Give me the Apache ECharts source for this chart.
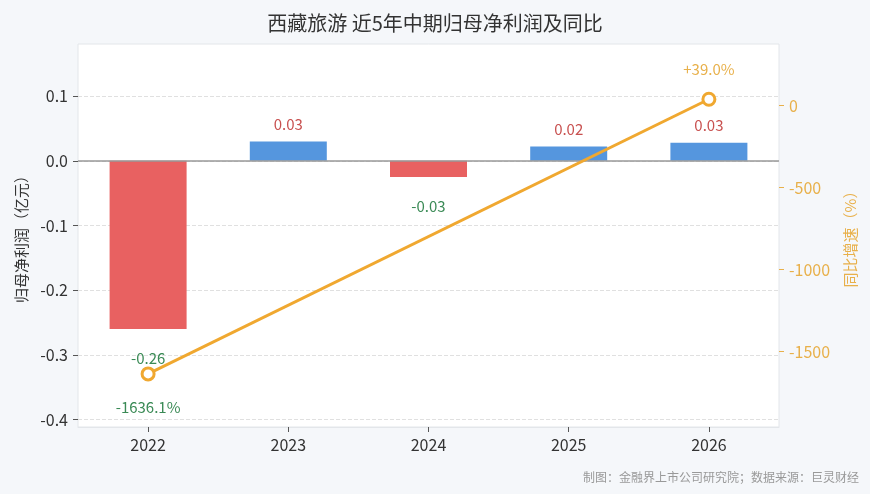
<!DOCTYPE html>
<html><head><meta charset="utf-8">
<script src="https://cdn.jsdelivr.net/npm/echarts@6/dist/echarts.min.js"></script>
<style>html,body{margin:0;padding:0;background:#f5f7fa;}#c{width:870px;height:494px;}</style>
</head><body><div id="c"></div>
<script>
const categories = ['2022','2023','2024','2025','2026'];
const profit = [-0.26, 0.03, -0.025, 0.022, 0.028];
const growth = [-1636.1, null, null, null, 39.0];
const leftTicks = [0.1, 0, -0.1, -0.2, -0.3, -0.4];
const rightTicks = [0, -500, -1000, -1500];

const FONT = '"Noto Sans CJK SC","Noto Sans",sans-serif';
const chart = echarts.init(document.getElementById('c'));
chart.setOption({
  backgroundColor: '#f5f7fa',
  textStyle: {fontFamily: FONT},
  title: {
    text: '西藏旅游 近5年中期归母净利润及同比',
    left: 'center', top: 8,
    textStyle: {fontSize: 20, fontWeight: 'normal', color: '#333', fontFamily: FONT}
  },
  graphic: [{
    type: 'text', right: 11, bottom: 11,
    style: {text: '制图：金融界上市公司研究院；数据来源：巨灵财经', fill: '#999', fontSize: 12, fontFamily: FONT}
  }],
  grid: {left: 78, right: 91, top: 44, bottom: 67, show: true, backgroundColor: '#fff', borderColor: '#e3e6ea', borderWidth: 1},
  xAxis: {
    type: 'category', data: categories,
    axisLine: {show: true, onZero: false, lineStyle: {color: '#e3e6ea'}},
    axisTick: {show: true, alignWithLabel: true, length: 5, lineStyle: {color: '#555'}},
    axisLabel: {color: '#333', fontSize: 16, margin: 10}
  },
  yAxis: [{
    type: 'value', min: -0.4114, max: 0.1805,
    name: '归母净利润（亿元）', nameLocation: 'middle', nameGap: 49,
    nameTextStyle: {color: '#333', fontSize: 15},
    axisLine: {show: false},
    axisTick: {show: true, length: 5, customValues: leftTicks, lineStyle: {color: '#555'}},
    axisLabel: {color: '#333', fontSize: 16, customValues: leftTicks, formatter: v => v.toFixed(1), margin: 10},
    splitLine: {show: true, lineStyle: {color: '#e0e0e0', type: 'dashed'}}
  }, {
    type: 'value', min: -1960, max: 376,
    name: '同比增速（%）', nameLocation: 'middle', nameGap: 64, nameRotate: 90,
    nameTextStyle: {color: '#e8b04a', fontSize: 15},
    axisLine: {show: false},
    axisTick: {show: true, length: 5, customValues: rightTicks, lineStyle: {color: '#e8b04a'}},
    axisLabel: {color: '#e8b04a', fontSize: 16, customValues: rightTicks, formatter: v => String(v), margin: 10},
    splitLine: {show: false}
  }],
  series: [{
    type: 'bar', yAxisIndex: 0, barWidth: 77,
    data: profit.map(v => ({
      value: v,
      itemStyle: {color: v < 0 ? '#e86161' : '#5596de'},
      label: {
        show: true,
        position: v < 0 ? 'bottom' : 'top',
        distance: v < 0 ? 22 : 10,
        color: v < 0 ? '#3a8a55' : '#c8504f',
        fontSize: 15,
        formatter: p => p.value.toFixed(2)
      }
    })),
    markLine: {
      silent: true, symbol: 'none', label: {show: false},
      lineStyle: {color: '#999', width: 1.5, type: 'solid'},
      data: [{yAxis: 0}]
    },
    z: 2
  }, {
    type: 'line', yAxisIndex: 1, connectNulls: true,
    data: growth.map(v => v === null ? null : ({
      value: v,
      label: {
        show: true,
        position: v < 0 ? 'bottom' : 'top',
        distance: v < 0 ? 18 : 15,
        color: v < 0 ? '#3a8a55' : '#e8b04a',
        fontSize: 15,
        formatter: p => (p.value > 0 ? '+' : '') + p.value.toFixed(1) + '%'
      }
    })),
    symbol: 'circle', symbolSize: 12, showSymbol: true,
    itemStyle: {color: '#fff', borderColor: '#f0a830', borderWidth: 3},
    lineStyle: {color: '#f0a830', width: 3},
    z: 5
  }]
});
</script></body></html>
